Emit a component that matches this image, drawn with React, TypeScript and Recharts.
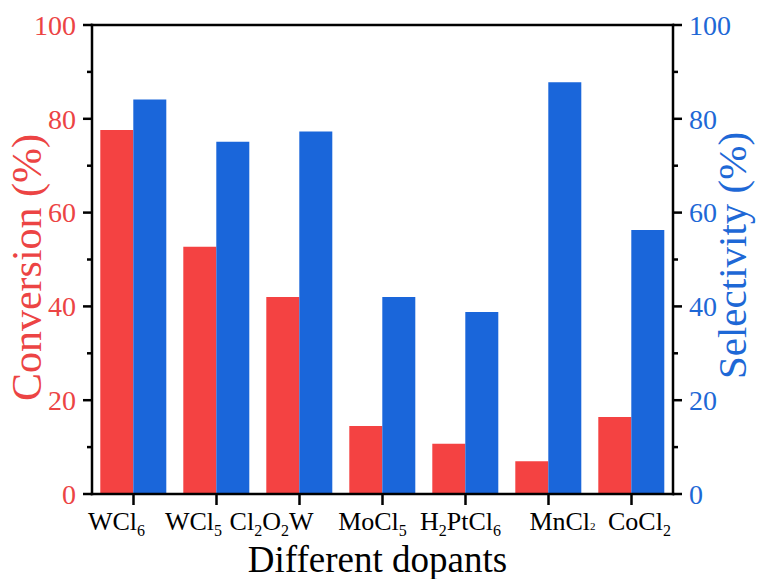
import React from 'react';
import { BarChart, Bar, XAxis, YAxis, ReferenceLine, Label } from 'recharts';

// ---- data ----
const categories = ['WCl6', 'WCl5', 'Cl2O2W', 'MoCl5', 'H2PtCl6', 'MnCl2', 'CoCl2'];
const conversion = [77.6, 52.7, 42.0, 14.5, 10.7, 7.0, 16.4];
const selectivity = [84.1, 75.1, 77.3, 42.0, 38.8, 87.8, 56.3];
const yTicks = [0, 10, 20, 30, 40, 50, 60, 70, 80, 90, 100];

// label pieces: [text, isSub]
const labelParts: Record<string, [string, boolean][]> = {
  WCl6: [['WCl', false], ['6', true]],
  WCl5: [['WCl', false], ['5', true]],
  Cl2O2W: [['Cl', false], ['2', true], ['O', false], ['2', true], ['W', false]],
  MoCl5: [['MoCl', false], ['5', true]],
  H2PtCl6: [['H', false], ['2', true], ['PtCl', false], ['6', true]],
  MnCl2: [['MnCl', false], ['2', true]],
  CoCl2: [['CoCl', false], ['2', true]],
};
// horizontal nudge of each category label (layout, not data)
const labelShift = [-17, -23, -28, -10, -5, 14, 8];

const data = categories.map((name, i) => ({
  name,
  conversion: conversion[i],
  selectivity: selectivity[i],
}));

const FONT = '"Liberation Serif", "Times New Roman", Times, serif';
const RED_BAR = '#F44242';
const BLUE_BAR = '#1A66DA';
const RED_TXT = '#EC4444';
const BLUE_TXT = '#1E68D6';
const AXIS_W = 2.5;

const XTick = (props: any) => {
  const { x, y, payload, index } = props;
  const name = payload.value as string;
  const parts = labelParts[name] || [[name, false]];
  const shift = labelShift[index] ?? 0;
  const tiny = name === 'MnCl2';
  let level = 0;
  const spans = parts.map(([t, sub], k) => {
    const target = sub ? (tiny ? 0 : 6) : 0;
    const dy = target - level;
    level = target;
    return (
      <tspan key={k} dy={dy} fontSize={sub ? (tiny ? 11 : 16) : 26}>
        {t}
      </tspan>
    );
  });
  return (
    <text
      x={x + shift}
      y={y + 25}
      textAnchor="middle"
      fontFamily={FONT}
      style={{ fontFamily: FONT }}
      fontSize={26}
      fill="#000"
    >
      {spans}
    </text>
  );
};

const YTick = (props: any) => {
  const { x, y, payload, side } = props;
  const v = payload.value as number;
  const major = v % 20 === 0;
  const len = major ? 9 : 5;
  const dir = side === 'left' ? -1 : 1;
  return (
    <g>
      <line x1={x} x2={x + dir * len} y1={y} y2={y} stroke="#000" strokeWidth={AXIS_W} />
      {major && (
        <text
          x={x + dir * (len + 7)}
          y={y}
          dy="0.35em"
          textAnchor={side === 'left' ? 'end' : 'start'}
          fontFamily={FONT}
          style={{ fontFamily: FONT }}
          fontSize={28}
          fill={side === 'left' ? RED_TXT : BLUE_TXT}
        >
          {v}
        </text>
      )}
    </g>
  );
};

const LeftTitle = (props: any) => {
  const vb = props.viewBox || { x: 0, y: 25, width: 92, height: 469 };
  const cx = vb.x + 41;
  const cy = vb.y + vb.height / 2 + 8;
  return (
    <text x={cx} y={cy} transform={`rotate(-90, ${cx}, ${cy})`} textAnchor="middle" fontFamily={FONT} style={{ fontFamily: FONT }} fontSize={42} fill={RED_TXT}>
      Conversion (%)
    </text>
  );
};

const RightTitle = (props: any) => {
  const vb = props.viewBox || { x: 673, y: 25, width: 87, height: 469 };
  const cx = vb.x + 73;
  const cy = vb.y + vb.height / 2 - 4;
  return (
    <text x={cx} y={cy} transform={`rotate(-90, ${cx}, ${cy})`} textAnchor="middle" fontFamily={FONT} style={{ fontFamily: FONT }} fontSize={41} fill={BLUE_TXT}>
      Selectivity (%)
    </text>
  );
};

const BottomTitle = (props: any) => {
  const vb = props.viewBox || { x: 92, y: 494, width: 581, height: 85 };
  const cx = vb.x + vb.width / 2 - 5;
  const cy = vb.y + 78;
  return (
    <text x={cx} y={cy} textAnchor="middle" fontFamily={FONT} style={{ fontFamily: FONT }} fontSize={37} fill="#000">
      Different dopants
    </text>
  );
};

export default function App() {
  return (
    <div style={{ position: 'absolute', left: 0, top: 0, width: 760, height: 579, background: '#fff' }}>
      <BarChart
        width={760}
        height={579}
        data={data}
        margin={{ top: 25, right: 0, left: 0, bottom: 0 }}
        barCategoryGap="10%"
        barGap={0}
      >
        <XAxis
          dataKey="name"
          height={85}
          interval={0}
          tickSize={11}
          tickMargin={0}
          axisLine={{ stroke: '#000', strokeWidth: AXIS_W, strokeLinecap: 'square' }}
          tickLine={{ stroke: '#000', strokeWidth: AXIS_W }}
          tick={(p: any) => <XTick {...p} />}
        >
          <Label content={(p: any) => <BottomTitle {...p} />} />
        </XAxis>
        <YAxis
          yAxisId="left"
          orientation="left"
          width={92}
          domain={[0, 100]}
          ticks={yTicks}
          interval={0}
          tickSize={0}
          tickMargin={0}
          tickLine={false}
          axisLine={{ stroke: '#000', strokeWidth: AXIS_W, strokeLinecap: 'square' }}
          tick={(p: any) => <YTick {...p} side="left" />}
        >
          <Label content={(p: any) => <LeftTitle {...p} />} />
        </YAxis>
        <YAxis
          yAxisId="right"
          orientation="right"
          width={87}
          domain={[0, 100]}
          ticks={yTicks}
          interval={0}
          tickSize={0}
          tickMargin={0}
          tickLine={false}
          axisLine={{ stroke: '#000', strokeWidth: AXIS_W, strokeLinecap: 'square' }}
          tick={(p: any) => <YTick {...p} side="right" />}
        >
          <Label content={(p: any) => <RightTitle {...p} />} />
        </YAxis>
        <Bar dataKey="conversion" yAxisId="left" fill={RED_BAR} isAnimationActive={false} />
        <Bar dataKey="selectivity" yAxisId="right" fill={BLUE_BAR} isAnimationActive={false} />
        <ReferenceLine y={100} yAxisId="left" stroke="#000" strokeWidth={AXIS_W} strokeLinecap="square" />
      </BarChart>
    </div>
  );
}
